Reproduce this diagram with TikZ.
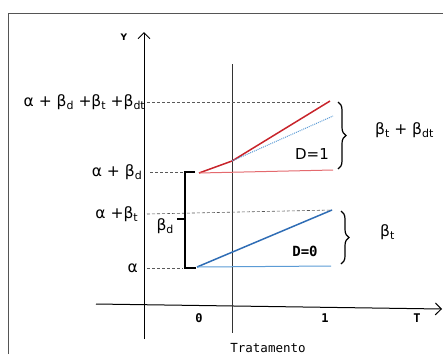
\documentclass[tikz,border=0pt]{standalone}
\usepackage{fontspec}
\setmainfont{DejaVu Sans}
\setmonofont{DejaVu Sans Mono}
\usetikzlibrary{arrows.meta,decorations.pathreplacing}
\definecolor{redline}{HTML}{C8242B}
\definecolor{redthin}{HTML}{E46A6E}
\definecolor{blueline}{HTML}{2F6DB5}
\definecolor{bluethin}{HTML}{5B9BD5}
\definecolor{framegray}{HTML}{555555}
\newcommand{\subtx}[1]{\raisebox{-0.35ex}{\fontsize{11}{12}\selectfont #1}}

\begin{document}
\begin{tikzpicture}[x=1pt,y=-1pt,>={Straight Barb[length=6pt,width=12pt,line width=1pt]},
 font=\fontsize{15.5}{17}\selectfont,
 lbl/.style={inner sep=0pt,anchor=east},
 txt/.style={inner sep=0pt},
 mono/.style={inner sep=0pt,font=\ttfamily\fontsize{12}{14}\selectfont},
 guide/.style={densely dashed,draw=black!65,line width=0.6pt},
 axis/.style={->,line width=1pt},
 curly/.style={decorate,decoration={brace,amplitude=8pt,aspect=0.5},line width=1.2pt},
 thick line/.style={line width=1.5pt},
 thin line/.style={line width=1pt}]
\useasboundingbox (0,0) rectangle (443,354);
% frame
\draw[framegray,line width=1pt] (8,354) -- (8,13) -- (443,13);

% axes
\coordinate (yfoot) at (144,339);
\coordinate (ytop) at (144,32);
\coordinate (xfoot) at (96,304);
\coordinate (xend) at (442,309);
\draw[axis] (yfoot) -- (ytop);
\draw[axis] (xfoot) -- (xend);
\node[txt,font=\bfseries\fontsize{9}{10}\selectfont] (ylab) at (124,37) {Y};
\node[mono,font=\ttfamily\bfseries\fontsize{12}{14}\selectfont] (tlab) at (417,318) {T};
\node[mono,font=\ttfamily\bfseries\fontsize{12}{14}\selectfont] (zero) at (199,318) {0};
\node[mono,font=\ttfamily\bfseries\fontsize{12}{14}\selectfont] (one) at (325,318) {1};

% treatment line
\coordinate (trtop) at (232,64);
\coordinate (trfoot) at (232,333);
\draw[line width=0.8pt,black!80] (trtop) -- (trfoot);
\node[mono,font=\ttfamily\fontsize{12.5}{14}\selectfont] (trlab) at (268,348) {Tratamento};

% level labels
\node[lbl] (lTop) at (145,102) {α + β\subtx{d} +β\subtx{t} +β\subtx{dt}};
\node[lbl] (lAD) at (142,172) {α + β\subtx{d}};
\node[lbl] (lAT) at (138,214) {α +β\subtx{t}};
\node[lbl] (lA) at (138,268) {α};

% D=1 lines
\coordinate (d1s) at (199,173);
\coordinate (d1k) at (232,161);
\coordinate (d1e) at (330,101);
\coordinate (d1f) at (333,170);
\coordinate (d1c) at (333,116);
\draw[redline,thick line] (d1s) -- (d1k) -- (d1e);
\draw[redthin,thin line] (d1s) -- (d1f);
\draw[bluethin,line width=1pt,densely dotted] (d1k) -- (d1c);

% D=0 lines
\coordinate (d0s) at (197,267);
\coordinate (d0e) at (332,210);
\coordinate (d0f) at (331,266);
\draw[blueline,thick line] (d0s) -- (d0e);
\draw[bluethin,thin line] (d0s) -- (d0f);

% guides
\coordinate (gTop) at (322,102);
\coordinate (gAD) at (188,172);
\coordinate (gAT) at (332,210);
\coordinate (gA) at (183,268);
\draw[guide] ([xshift=2pt]lTop.east) -- (gTop);
\draw[guide] ([xshift=8pt]lAD.east) -- (gAD);
\draw[guide] ([xshift=9pt]lAT.east) -- (gAT);
\draw[guide] ([xshift=9pt]lA.east) -- (gA);

% beta_d bracket
\coordinate (bdt) at (195,172);
\coordinate (bdb) at (196,268);
\coordinate (bdm) at (185,219);
\draw[line width=1.2pt] (bdt) -| (bdm) |- (bdb);
\draw[line width=1.2pt] (bdm) -- ++(-8,0);
\node[txt] (bd) at (165,226) {β\subtx{d}};

% braces
\draw[curly] (338,102) -- (338,169);
\draw[curly] (341,211) -- (341,264);
\node[txt,anchor=west] (bdt1) at (375,130) {β\subtx{t} + β\subtx{dt}};
\node[txt,anchor=west] (bt0) at (380,232) {β\subtx{t}};

% group labels
\node[txt,font=\fontsize{15}{17}\selectfont] (dOne) at (312,154) {D=1};
\node[mono,font=\ttfamily\bfseries\fontsize{14}{16}\selectfont] (dZero) at (305,251) {D=0};
\end{tikzpicture}
\end{document}
